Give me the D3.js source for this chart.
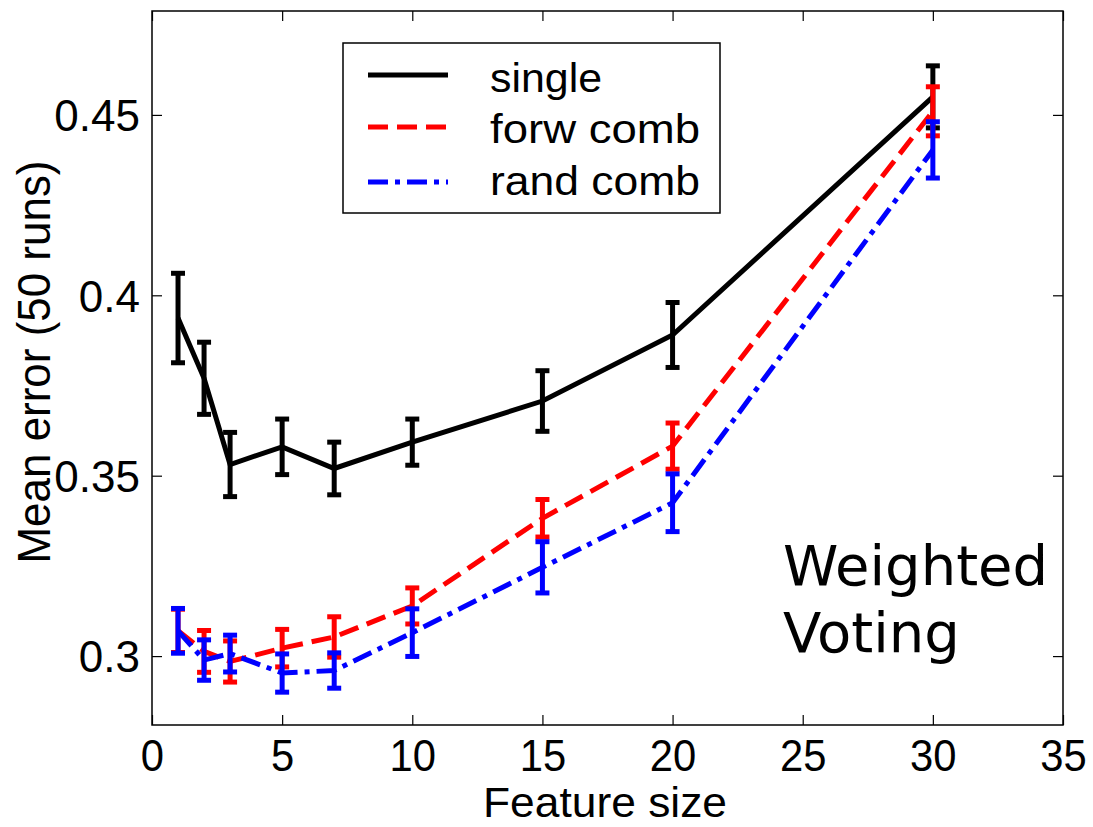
<!DOCTYPE html>
<html>
<head>
<meta charset="utf-8">
<script src="https://cdn.jsdelivr.net/npm/d3@7"></script>
<style>
  html, body { margin: 0; padding: 0; background: #fff; }
  svg { display: block; }
  text { font-family: Arial, "Liberation Sans", Helvetica, sans-serif; fill: #000; }
</style>
</head>
<body>
<svg id="chart" width="1093" height="827"></svg>
<script>
// ---- data ----
const featureSizes = [1, 2, 3, 5, 7, 10, 15, 20, 30];
const singleMean = [0.3937, 0.3770, 0.3531, 0.3580, 0.3520, 0.3593, 0.3707, 0.3890, 0.4550];
const singleErr  = [0.0124, 0.0100, 0.0089, 0.0077, 0.0073, 0.0064, 0.0084, 0.0090, 0.0086];
const forwMean   = [0.3070, 0.3013, 0.2985, 0.3022, 0.3053, 0.3139, 0.3382, 0.3582, 0.4510];
const forwErr    = [0.0060, 0.0058, 0.0057, 0.0052, 0.0056, 0.0050, 0.0052, 0.0064, 0.0068];
const randMean   = [0.3070, 0.2989, 0.3007, 0.2953, 0.2960, 0.3065, 0.3246, 0.3425, 0.4403];
const randErr    = [0.0062, 0.0056, 0.0051, 0.0053, 0.0049, 0.0066, 0.0071, 0.0080, 0.0078];
const seriesNames = ["single", "forw comb", "rand comb"];
const xTicks = [0, 5, 10, 15, 20, 25, 30, 35];
const yTicks = [0.3, 0.35, 0.4, 0.45];
const yTickLabels = ["0.3", "0.35", "0.4", "0.45"];
const xLabel = "Feature size";
const yLabel = "Mean error (50 runs)";
const annotation = ["Weighted", "Voting"];

// ---- layout ----
const L = 152, R = 1063, T = 11, B = 725;
const svg = d3.select("#chart");
svg.append("rect").attr("width", 1093).attr("height", 827).attr("fill", "#fff");

const x = d3.scaleLinear().domain([0, 35]).range([L, R]);
const y = d3.scaleLinear().domain([0.2809, 0.4788]).range([B, T]);

const styles = [
  { color: "#000000", dash: null },
  { color: "#ff0000", dash: "20,9" },
  { color: "#0000ff", dash: "20,7,5,7" }
];
const means = [singleMean, forwMean, randMean];
const errs = [singleErr, forwErr, randErr];

// axis box
svg.append("rect").attr("x", L).attr("y", T).attr("width", R - L).attr("height", B - T)
  .attr("fill", "none").attr("stroke", "#000").attr("stroke-width", 1.5);

// axes with inward ticks (bottom/top, left/right)
const tickLen = 10;
const gx = svg.append("g").attr("transform", `translate(0,${B})`)
  .call(d3.axisBottom(x).tickValues(xTicks).tickSize(-tickLen).tickFormat(d3.format("d")));
const gxTop = svg.append("g").attr("transform", `translate(0,${T})`)
  .call(d3.axisTop(x).tickValues(xTicks).tickSize(-tickLen).tickFormat(""));
const gy = svg.append("g").attr("transform", `translate(${L},0)`)
  .call(d3.axisLeft(y).tickValues(yTicks).tickSize(-tickLen).tickPadding(12)
    .tickFormat((d, i) => yTickLabels[i]));
const gyR = svg.append("g").attr("transform", `translate(${R},0)`)
  .call(d3.axisRight(y).tickValues(yTicks).tickSize(-tickLen).tickFormat(""));
[gx, gxTop, gy, gyR].forEach(g => {
  g.select(".domain").remove();
  g.selectAll(".tick line").attr("stroke", "#000").attr("stroke-width", 1.2);
});
gx.selectAll(".tick text")
  .attr("font-size", 44).attr("font-family", "Arial, 'Liberation Sans', sans-serif")
  .attr("fill", "#000").attr("dy", null).attr("y", 0)
  .attr("transform", "translate(0,46) scale(0.95,1)");
gy.selectAll(".tick text")
  .attr("font-size", 44).attr("font-family", "Arial, 'Liberation Sans', sans-serif")
  .attr("fill", "#000").attr("dy", "0.36em").attr("x", -12);

// series: lines + error bars
const cap = 7;
means.forEach((m, si) => {
  const st = styles[si];
  const g = svg.append("g");
  const pts = featureSizes.map((f, i) => ({ f, m: m[i], e: errs[si][i] }));
  const eb = g.selectAll("g.eb").data(pts).enter().append("g");
  eb.append("line")
    .attr("x1", d => x(d.f)).attr("x2", d => x(d.f))
    .attr("y1", d => y(d.m - d.e)).attr("y2", d => y(d.m + d.e))
    .attr("stroke", st.color).attr("stroke-width", 5);
  eb.append("line")
    .attr("x1", d => x(d.f) - cap).attr("x2", d => x(d.f) + cap)
    .attr("y1", d => y(d.m + d.e)).attr("y2", d => y(d.m + d.e))
    .attr("stroke", st.color).attr("stroke-width", 5);
  eb.append("line")
    .attr("x1", d => x(d.f) - cap).attr("x2", d => x(d.f) + cap)
    .attr("y1", d => y(d.m - d.e)).attr("y2", d => y(d.m - d.e))
    .attr("stroke", st.color).attr("stroke-width", 5);
  g.append("path").datum(pts)
    .attr("d", d3.line().x(d => x(d.f)).y(d => y(d.m)))
    .attr("fill", "none").attr("stroke", st.color).attr("stroke-width", 5)
    .attr("stroke-dasharray", st.dash);
});

// legend
const lg = svg.append("g");
lg.append("rect").attr("x", 343).attr("y", 43).attr("width", 377).attr("height", 170)
  .attr("fill", "#fff").attr("stroke", "#000").attr("stroke-width", 1.5);
const legY = [75, 127, 182];
const legBase = [92, 143, 195];
const legLen = [112, 210, 210];
seriesNames.forEach((name, i) => {
  lg.append("line").attr("x1", 368).attr("x2", 448).attr("y1", legY[i]).attr("y2", legY[i])
    .attr("stroke", styles[i].color).attr("stroke-width", 5)
    .attr("stroke-dasharray", styles[i].dash);
  lg.append("text").attr("x", 490).attr("y", legBase[i]).attr("font-size", 40)
    .attr("textLength", legLen[i]).attr("lengthAdjust", "spacingAndGlyphs")
    .text(name);
});

// axis labels
svg.append("text").attr("x", 605).attr("y", 817).attr("text-anchor", "middle")
  .attr("font-size", 42).attr("textLength", 244).attr("lengthAdjust", "spacingAndGlyphs")
  .text(xLabel);
svg.append("text").attr("transform", "translate(50,362) rotate(-90)").attr("text-anchor", "middle")
  .attr("font-size", 47).attr("textLength", 403).attr("lengthAdjust", "spacingAndGlyphs")
  .text(yLabel);

// annotation
annotation.forEach((t, i) => {
  svg.append("text").attr("x", 783).attr("y", 585 + i * 67)
    .style("font-family", "'DejaVu Sans', Verdana, sans-serif")
    .attr("font-size", 56).text(t);
});
</script>
</body>
</html>
